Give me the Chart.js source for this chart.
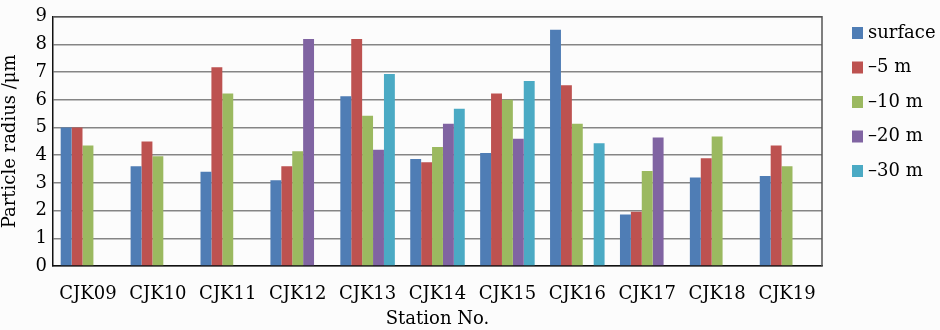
<!DOCTYPE html>
<html>
<head>
<meta charset="utf-8">
<script src="https://cdn.jsdelivr.net/npm/chart.js@4.4.0/dist/chart.umd.min.js"></script>
<style>
  html, body { margin: 0; padding: 0; background: #fcfcfc; }
  #wrap { width: 940px; height: 330px; }
</style>
</head>
<body>
<div id="wrap"><canvas id="radiusChart" width="940" height="330"></canvas></div>
<script>
// stations along the transect and particle radius (µm) at each sampling depth
const stations = ["CJK09", "CJK10", "CJK11", "CJK12", "CJK13", "CJK14", "CJK15", "CJK16", "CJK17", "CJK18", "CJK19"];
const depthLabels = ["surface", "\u20135 m", "\u201310 m", "\u201320 m", "\u201330 m"];
const surface = [5.0, 3.6, 3.4, 3.1, 6.13, 3.86, 4.08, 8.53, 1.86, 3.2, 3.25];
const minus5 = [5.0, 4.5, 7.18, 3.6, 8.2, 3.75, 6.23, 6.53, 1.96, 3.89, 4.35];
const minus10 = [4.35, 3.96, 6.23, 4.14, 5.43, 4.3, 6.0, 5.14, 3.43, 4.68, 3.6];
const minus20 = [null, null, null, 8.2, 4.2, 5.14, 4.6, null, 4.64, null, null];
const minus30 = [null, null, null, null, 6.93, 5.68, 6.68, 4.43, null, null, null];
const yTicks = [0, 1, 2, 3, 4, 5, 6, 7, 8, 9];

const colors = ["#4f7db5", "#bd5250", "#9bb960", "#8064a2", "#4baac4"];
const series = [surface, minus5, minus10, minus20, minus30];

Chart.defaults.font.family = "'DejaVu Serif', serif";
Chart.defaults.color = "#000";

// frame round the plot area and a hand-placed legend on the right
const framePlugin = {
  id: "frame",
  afterDraw(chart) {
    const { ctx, chartArea: a } = chart;
    ctx.save();
    ctx.strokeStyle = "#555";
    ctx.lineWidth = 1.5;
    ctx.beginPath();
    ctx.moveTo(a.left, a.top);
    ctx.lineTo(a.right, a.top);
    ctx.lineTo(a.right, a.bottom);
    ctx.stroke();

    ctx.font = "18px 'DejaVu Serif', serif";
    ctx.textBaseline = "middle";
    chart.data.datasets.forEach((ds, i) => {
      const cy = 33 + i * 34.5;
      ctx.fillStyle = ds.backgroundColor;
      ctx.fillRect(852, cy - 6, 11, 12);
      ctx.fillStyle = "#000";
      ctx.fillText(ds.label, 868, cy);
    });
    ctx.restore();
  }
};

const ctx = document.getElementById("radiusChart").getContext("2d");
new Chart(ctx, {
  type: "bar",
  data: {
    labels: stations,
    datasets: series.map((vals, i) => ({
      label: depthLabels[i],
      data: vals,
      backgroundColor: colors[i],
      barPercentage: 1.0,
      categoryPercentage: 0.78
    }))
  },
  options: {
    responsive: false,
    animation: false,
    layout: { padding: { left: 0, right: 118, top: 14, bottom: 0 } },
    plugins: {
      legend: { display: false },
      tooltip: { enabled: false }
    },
    scales: {
      x: {
        grid: { display: false, drawTicks: false },
        border: { color: "#111", width: 1.5 },
        ticks: { font: { size: 18 }, padding: 18, maxRotation: 0, autoSkip: false },
        title: { display: true, text: "Station No.", font: { size: 18 }, padding: { top: 0, bottom: 0 } },
        afterFit(scale) { scale.height = 64; }
      },
      y: {
        min: 0,
        max: 9,
        afterBuildTicks(scale) { scale.ticks = yTicks.map(v => ({ value: v })); },
        grid: { color: "#858585", lineWidth: 1.5, drawTicks: false },
        border: { color: "#111", width: 1.5 },
        ticks: { font: { size: 18 }, padding: 6 },
        title: { display: true, text: "Particle radius /\u03bcm", font: { size: 18 }, padding: { top: 0, bottom: 4 } },
        afterFit(scale) { scale.width = 53; }
      }
    }
  },
  plugins: [framePlugin]
});
</script>
</body>
</html>
